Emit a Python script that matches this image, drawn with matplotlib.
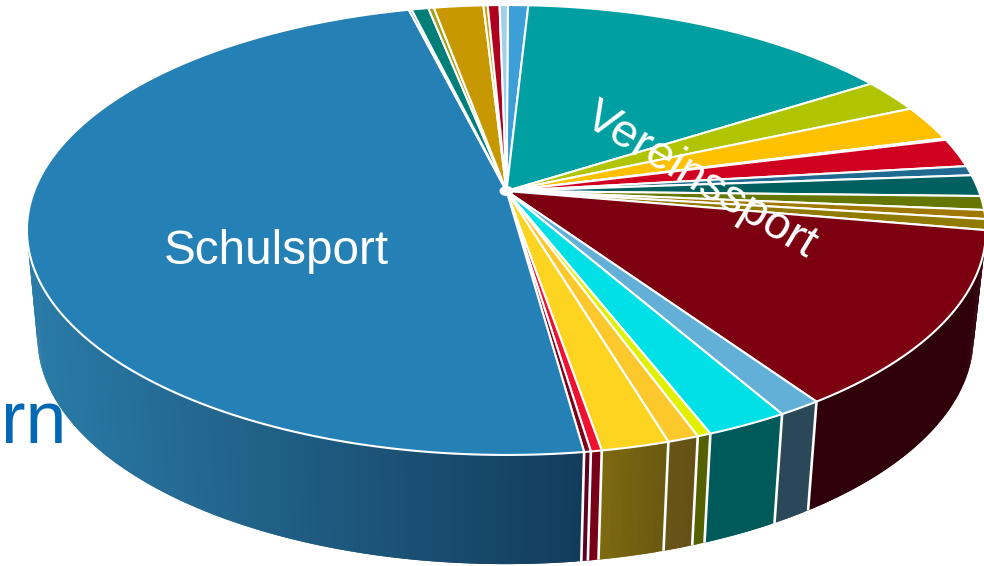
import numpy as np
import matplotlib
matplotlib.use("Agg")
import matplotlib.pyplot as plt
from matplotlib.collections import PolyCollection
from matplotlib.colors import to_rgb
from matplotlib.patches import Ellipse

# Slice shares in percent, clockwise from the top of the pie
shares = [0.81, 15.11, 2.42, 2.56, 0.11, 2.08, 0.69, 1.53, 1.00, 0.64, 0.78,
          12.71, 1.25, 2.36, 0.39, 0.89, 1.94, 0.31, 0.19, 48.29,
          0.11, 0.67, 0.22, 1.97, 0.17, 0.47, 0.33]
top_colors = ["#3C9FD8", "#00A0A2", "#B0C400", "#FFC000", "#FFE9A0", "#D00020",
              "#1F6A90", "#006060", "#667700", "#A07800", "#907A00",
              "#7C0010", "#62B0D8", "#00E0E6", "#E0F000", "#FCC82C", "#FDD520",
              "#F01030", "#80001A", "#2581B5",
              "#123030", "#007F78", "#A0A010", "#C89800", "#C8A000", "#B00020", "#A0D0E8"]
# Side wall colours (left end, right end); None means the side is out of sight
wall_colors = [None] * 11 + [
    ("#30000A", "#30000A"), ("#2A4858", "#2A4858"), ("#005A5A", "#005A5A"),
    ("#556000", "#556000"), ("#6A5418", "#645016"), ("#7E6A10", "#6A5810"),
    ("#780018", "#780018"), ("#600020", "#600020"), ("#2A7BA8", "#133C5C"),
] + [None] * 7
labels = ["Schulsport", "Vereinssport"]
clipped_title = "rn"

START_DEG = 0.2
K = 0.1733
TOP = dict(x0=506.5, y0=191.0, a=472.3, b=218.2)
BOTTOM = dict(x0=505.5, y0=298.0, a=461.0, b=220.0)


def project(theta_deg, plane):
    t = np.radians(theta_deg)
    u, v = np.sin(t), np.cos(t)
    w = 1 + K * v
    return plane["x0"] + plane["a"] * u / w, plane["y0"] - plane["b"] * v / w


fig = plt.figure(figsize=(9.84, 5.66), dpi=100)
ax = fig.add_axes([0, 0, 1, 1])
ax.set_xlim(0, 984)
ax.set_ylim(566, 0)
ax.axis("off")

plt.rcParams["font.family"] = ["Liberation Sans", "DejaVu Sans"]

ax.text(1, 443, clipped_title, fontsize=53, color="#0068B4", ha="left",
        va="baseline", zorder=1)

edges = START_DEG + np.concatenate([[0], np.cumsum(shares)]) * 3.6

# side walls: each strip overlaps the next one so no seams show
for i, colors in enumerate(wall_colors):
    if colors is None:
        continue
    a0, a1 = edges[i], edges[i + 1]
    stop = min(a1, 285)
    th = np.linspace(a0, stop, max(3, int((stop - a0) * 2)))
    xt, yt = project(th, TOP)
    xb, yb = project(th, BOTTOM)
    c0, c1 = np.array(to_rgb(colors[0])), np.array(to_rgb(colors[1]))
    lo, hi = xt.min(), xt.max()
    polys, cols = [], []
    for j in range(len(th) - 1):
        end = min(j + 3, len(th))
        poly = list(zip(xt[j:end], yt[j:end])) + list(zip(xb[j:end][::-1], yb[j:end][::-1]))
        polys.append(poly)
        f = ((xt[j] + xt[j + 1]) / 2 - lo) / (hi - lo)
        cols.append(c0 + (c1 - c0) * f)
    ax.add_collection(PolyCollection(polys, facecolors=cols, edgecolors="none",
                                     linewidths=0, zorder=2))
    if a0 > 105:
        x0, y0 = project(a0, TOP)
        x1, y1 = project(a0, BOTTOM)
        ax.plot([x0, x1], [y0, y1], color="white", lw=1.9, zorder=3,
                solid_capstyle="butt")

# top face
for i, color in enumerate(top_colors):
    a0, a1 = edges[i], edges[i + 1]
    th = np.linspace(a0, a1, max(2, int((a1 - a0) * 3)))
    x, y = project(th, TOP)
    pts = np.column_stack([np.r_[TOP["x0"], x], np.r_[TOP["y0"], y]])
    ax.fill(pts[:, 0], pts[:, 1], facecolor=color, edgecolor="white", lw=1.5,
            joinstyle="round", zorder=4)
ax.add_patch(Ellipse((TOP["x0"], TOP["y0"]), 14, 10, facecolor="white",
                     edgecolor="none", zorder=5))

ax.text(276, 251, labels[0], fontsize=34.3, color="white", ha="center",
        va="center", zorder=6)
ax.text(701, 181, labels[1], fontsize=34, color="white", ha="center",
        va="center", rotation=-31, rotation_mode="anchor", zorder=6)

fig.savefig("out.png", dpi=100)
